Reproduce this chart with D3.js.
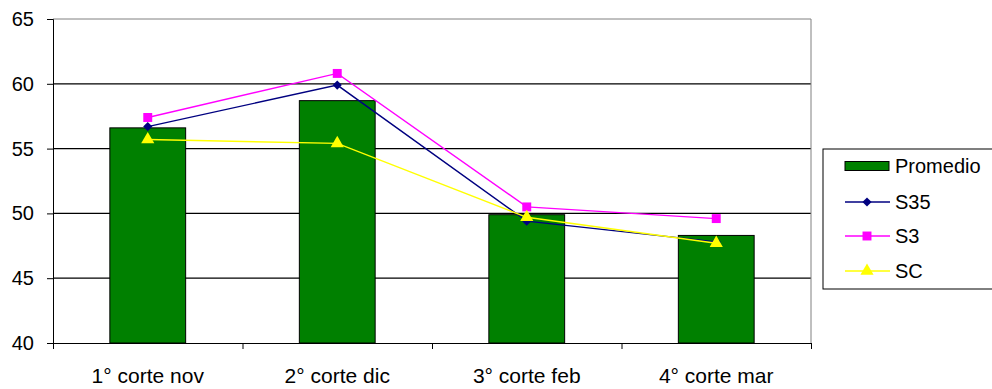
<!DOCTYPE html>
<html><head><meta charset="utf-8">
<script src="https://cdn.jsdelivr.net/npm/d3@7"></script>
<style>body{margin:0;background:#fff}svg{display:block}</style>
</head><body>
<script>
const categories = ["1° corte nov","2° corte dic","3° corte feb","4° corte mar"];
const promedio = [56.6, 58.7, 49.9, 48.3];
const s35 = [56.7, 59.9, 49.4, 47.8];
const s3 = [57.4, 60.8, 50.5, 49.6];
const sc = [55.7, 55.4, 49.7, 47.7];
const yTicks = [40, 45, 50, 55, 60, 65];

const W = 992, H = 389;
const m = {left: 53, right: 811, top: 19, bottom: 343};
const svg = d3.select("body").append("svg").attr("width", W).attr("height", H);
const font = "Liberation Sans, Arial, sans-serif";

const x = d3.scaleBand().domain(categories).range([m.left, m.right]).paddingInner(0.6).paddingOuter(0.3);
const xEdge = d3.scalePoint().domain(d3.range(5)).range([m.left, m.right]);
const y = d3.scaleLinear().domain([40, 65]).range([m.bottom, m.top]);

// gridlines
svg.append("g").selectAll("line").data(yTicks.filter(t => t > 40 && t < 65)).join("line")
  .attr("x1", m.left).attr("x2", m.right)
  .attr("y1", d => y(d)).attr("y2", d => y(d))
  .attr("stroke", "#000").attr("stroke-width", 1.2);
// plot border top/right
svg.append("path").attr("d", `M${m.left},${y(65)}H${m.right}V${m.bottom}`)
  .attr("fill", "none").attr("stroke", "#808080").attr("stroke-width", 1);

// bars
svg.append("g").selectAll("rect").data(promedio).join("rect")
  .attr("x", (d, i) => x(categories[i])).attr("width", x.bandwidth())
  .attr("y", d => y(d)).attr("height", d => y(40) - y(d))
  .attr("fill", "#008000").attr("stroke", "#000").attr("stroke-width", 1);

// axes
const yAxis = d3.axisLeft(y).tickValues(yTicks).tickSize(6).tickPadding(13);
const gy = svg.append("g").attr("transform", `translate(${m.left},0)`).call(yAxis);
gy.select(".domain").attr("stroke", "#000");
gy.selectAll("line").attr("stroke", "#000");
gy.selectAll("text").attr("font-family", font).attr("font-size", 20).attr("fill", "#000");

const xAxis = d3.axisBottom(xEdge).tickSize(6).tickFormat(() => "");
const gx = svg.append("g").attr("transform", `translate(0,${m.bottom})`).call(xAxis);
gx.select(".domain").attr("stroke", "#000");
gx.selectAll("line").attr("stroke", "#000");
svg.append("g").selectAll("text").data(categories).join("text")
  .attr("x", d => x(d) + x.bandwidth() / 2).attr("y", 383)
  .attr("text-anchor", "middle").attr("font-family", font).attr("font-size", 21)
  .attr("fill", "#000").text(d => d);

// line series
const cx = (i) => x(categories[i]) + x.bandwidth() / 2;
const series = [
  {name: "S35", values: s35, color: "#000080", sym: d3.symbolSquare, size: 42, rot: 45},
  {name: "S3", values: s3, color: "#FF00FF", sym: d3.symbolSquare, size: 80, rot: 0},
  {name: "SC", values: sc, color: "#FFFF00", sym: d3.symbolTriangle, size: 75, rot: 0}
];
const line = d3.line().x((d, i) => cx(i)).y(d => y(d));
series.forEach(s => {
  const g = svg.append("g");
  g.append("path").attr("d", line(s.values)).attr("fill", "none")
    .attr("stroke", s.color).attr("stroke-width", 1.4);
  g.selectAll("path.m").data(s.values).join("path").attr("class", "m")
    .attr("transform", (d, i) => `translate(${cx(i)},${y(d)}) rotate(${s.rot})`)
    .attr("d", d3.symbol().type(s.sym).size(s.size)).attr("fill", s.color);
});

// legend
const lg = svg.append("g");
lg.append("rect").attr("x", 823).attr("y", 149).attr("width", 170).attr("height", 140)
  .attr("fill", "#fff").attr("stroke", "#000").attr("stroke-width", 1);
const items = [{name: "Promedio"}].concat(series);
const ly = [166, 202, 236, 271];
items.forEach((it, i) => {
  if (i === 0) {
    lg.append("rect").attr("x", 845).attr("y", ly[i] - 4.5).attr("width", 44).attr("height", 9)
      .attr("fill", "#008000").attr("stroke", "#000");
  } else {
    lg.append("line").attr("x1", 845).attr("x2", 890).attr("y1", ly[i]).attr("y2", ly[i])
      .attr("stroke", it.color).attr("stroke-width", 1.4);
    lg.append("path").attr("transform", `translate(867,${ly[i]}) rotate(${it.rot})`)
      .attr("d", d3.symbol().type(it.sym).size(it.size)).attr("fill", it.color);
  }
  lg.append("text").attr("x", 895).attr("y", ly[i] + 7).attr("font-family", font)
    .attr("font-size", 20).attr("fill", "#000").text(it.name);
});
</script>
</body></html>
